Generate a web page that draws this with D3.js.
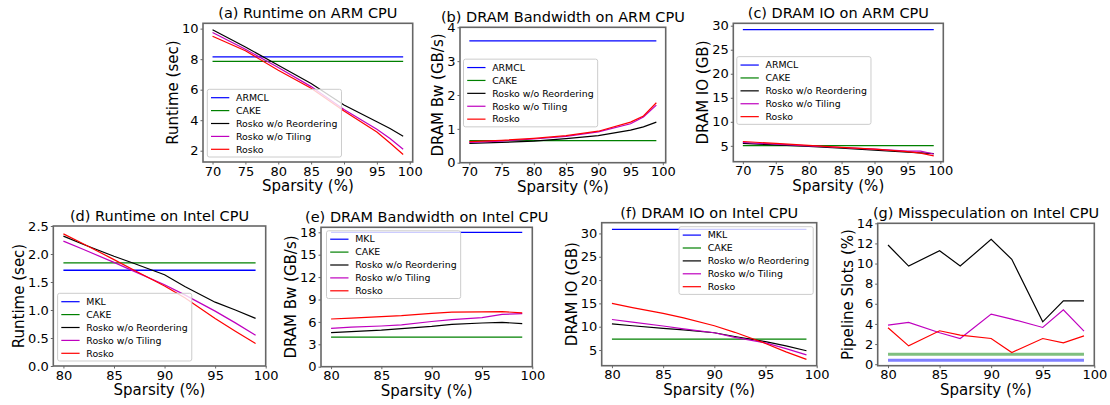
<!DOCTYPE html>
<html>
<head>
<meta charset="utf-8">
<script src="https://cdn.jsdelivr.net/npm/d3@7"></script>
<style>
  body { margin: 0; background: white; }
  text { font-family: "DejaVu Sans", sans-serif; fill: #000; }
</style>
</head>
<body>
<script>
// sparsity points
var armX = [70, 75, 80, 85, 90, 95, 97, 99];
var intelX = [80, 82, 85, 87, 90, 92, 95, 97, 99];

var armNames = ["ARMCL", "CAKE", "Rosko w/o Reordering", "Rosko w/o Tiling", "Rosko"];
var intelNames = ["MKL", "CAKE", "Rosko w/o Reordering", "Rosko w/o Tiling", "Rosko"];

// (a) runtime on ARM (sec)
var armRtArmcl = 8.15;
var armRtCake = 7.85;
var armRtNoReorder = [9.93, 8.8, 7.6, 6.4, 5.0, 3.9, 3.45, 2.95];
var armRtNoTiling = [9.75, 8.65, 7.45, 6.2, 4.7, 3.4, 2.8, 2.1];
var armRtRosko = [9.5, 8.55, 7.27, 6.1, 4.6, 3.22, 2.5, 1.75];

// (b) dram bw on ARM (GB/s)
var armBwArmcl = 3.6;
var armBwCake = 0.65;
var armBwNoReorder = [0.57, 0.6, 0.64, 0.71, 0.8, 0.96, 1.06, 1.2];
var armBwNoTiling = [0.6, 0.64, 0.7, 0.78, 0.91, 1.15, 1.35, 1.7];
var armBwRosko = [0.62, 0.66, 0.72, 0.8, 0.93, 1.2, 1.38, 1.77];

// (c) dram io on ARM (GB)
var armIoArmcl = 29.2;
var armIoCake = 5.05;
var armIoNoReorder = [5.5, 5.2, 4.9, 4.5, 4.1, 3.7, 3.55, 3.4];
var armIoNoTiling = [5.7, 5.35, 5.0, 4.65, 4.3, 3.9, 3.9, 3.3];
var armIoRosko = [5.9, 5.5, 5.1, 4.7, 4.3, 3.8, 3.5, 2.9];

// (d) runtime on Intel (sec)
var intelRtMkl = 1.71;
var intelRtCake = 1.84;
var intelRtNoReorder = [2.32, 2.17, 1.96, 1.83, 1.63, 1.42, 1.14, 1.0, 0.85];
var intelRtNoTiling = [2.23, 2.08, 1.85, 1.69, 1.45, 1.27, 0.98, 0.77, 0.55];
var intelRtRosko = [2.36, 2.18, 1.9, 1.71, 1.43, 1.22, 0.85, 0.62, 0.4];

// (e) dram bw on Intel (GB/s)
var intelBwMkl = 18;
var intelBwCake = 3.95;
var intelBwNoReorder = [4.56, 4.7, 4.9, 5.1, 5.4, 5.68, 5.85, 5.94, 5.76];
var intelBwNoTiling = [5.14, 5.3, 5.45, 5.6, 6.05, 6.3, 6.57, 7.0, 7.1];
var intelBwRosko = [6.39, 6.5, 6.7, 6.83, 7.15, 7.3, 7.35, 7.37, 7.22];

// (f) dram io on Intel (GB)
var intelIoMkl = 30.85;
var intelIoCake = 7.35;
var intelIoNoReorder = [10.6, 10.2, 9.65, 9.3, 8.7, 7.9, 6.8, 5.9, 4.85];
var intelIoNoTiling = [11.55, 11.0, 10.15, 9.55, 8.7, 7.7, 6.55, 5.3, 3.95];
var intelIoRosko = [15.0, 14.1, 12.85, 11.9, 10.2, 8.8, 6.4, 4.6, 3.0];

// (g) misspeculation on Intel (% pipeline slots)
var intelMsMkl = 0.4;
var intelMsCake = 1.0;
var intelMsNoReorder = [11.84, 9.75, 11.28, 9.75, 12.4, 10.42, 4.21, 6.3, 6.3];
var intelMsNoTiling = [3.88, 4.15, 3.12, 2.55, 4.98, 4.48, 3.65, 5.41, 3.28];
var intelMsRosko = [3.62, 1.82, 3.32, 2.89, 2.55, 1.16, 2.55, 2.12, 2.82];

var armTicksX = [70, 75, 80, 85, 90, 95, 100];
var intelTicksX = [80, 85, 90, 95, 100];

var colors = ["#0000ff", "#008000", "#000000", "#bf00bf", "#ff0000"];

var W = 1110, H = 405;
var svg = d3.select("body").append("svg")
            .attr("width", W)
            .attr("height", H);

function drawPanel(p) {
  var x = d3.scaleLinear().domain(p.xDom).range([p.box[0], p.box[2]]);
  var y = d3.scaleLinear().domain(p.yDom).range([p.box[3], p.box[1]]);
  var g = svg.append("g");

  // lines
  var line = d3.line()
               .x(function(d) { return x(d[0]); })
               .y(function(d) { return y(d[1]); });

  var xs = p.xs;
  var flat = [p.base[0], p.base[1]];
  flat.forEach(function(v, i) {
    g.append("path")
     .datum([[xs[0], v], [xs[xs.length - 1], v]])
     .attr("d", line)
     .attr("fill", "none")
     .attr("stroke", colors[i])
     .attr("stroke-width", p.thickBase ? 3 : 1.3)
     .attr("opacity", p.thickBase ? 0.5 : 1);
  });
  p.series.forEach(function(s, i) {
    g.append("path")
     .datum(xs.map(function(v, j) { return [v, s[j]]; }))
     .attr("d", line)
     .attr("fill", "none")
     .attr("stroke", colors[i + 2])
     .attr("stroke-width", 1.2);
  });

  // frame
  g.append("rect")
   .attr("x", p.box[0]).attr("y", p.box[1])
   .attr("width", p.box[2] - p.box[0])
   .attr("height", p.box[3] - p.box[1])
   .attr("fill", "none")
   .attr("stroke", "#666")
   .attr("stroke-width", 1.6);

  // x axis
  var xAxis = d3.axisBottom(x).tickValues(p.xTicks).tickSize(2.5).tickPadding(2).tickFormat(d3.format("d"));
  var gx = g.append("g")
            .attr("transform", "translate(0," + p.box[3] + ")")
            .call(xAxis);
  gx.select(".domain").remove();
  gx.selectAll("line").attr("stroke", "#666");
  gx.selectAll("text").style("font-size", "13px").attr("font-family", "DejaVu Sans").attr("fill", "#000");

  // y axis
  var yAxis = d3.axisLeft(y).tickValues(p.yTicks).tickSize(2.5).tickPadding(2).tickFormat(d3.format(p.yFmt));
  var gy = g.append("g")
            .attr("transform", "translate(" + p.box[0] + ",0)")
            .call(yAxis);
  gy.select(".domain").remove();
  gy.selectAll("line").attr("stroke", "#666");
  gy.selectAll("text").style("font-size", "13px").attr("font-family", "DejaVu Sans").attr("fill", "#000");

  var maxW = 0;
  gy.selectAll("text").each(function() { maxW = Math.max(maxW, this.getBBox().width); });

  // title and labels
  g.append("text")
   .attr("x", (p.box[0] + p.box[2]) / 2)
   .attr("y", p.box[1] - 5)
   .attr("text-anchor", "middle")
   .style("font-size", "14.5px")
   .text(p.title);

  g.append("text")
   .attr("x", (p.box[0] + p.box[2]) / 2)
   .attr("y", p.box[3] + 29)
   .attr("text-anchor", "middle")
   .style("font-size", "15px")
   .text("Sparsity (%)");

  var ly = (p.box[1] + p.box[3]) / 2;
  var lx = p.box[0] - 4.5 - maxW - 4;
  g.append("text")
   .attr("transform", "translate(" + lx + "," + ly + ") rotate(-90)")
   .attr("text-anchor", "middle")
   .style("font-size", "15px")
   .text(p.ylabel);

  if (!p.legend) return;

  // legend
  var rowH = 12.9, boxH = 8.4 + 4 * rowH + 7.7;
  var lg = g.append("g");
  var bg = lg.append("rect");
  var texts = [];
  p.names.forEach(function(n, i) {
    var t = lg.append("text")
              .attr("x", 28.7)
              .attr("y", 8.4 + i * rowH + 3.3)
              .style("font-size", "9.4px")
              .text(n);
    texts.push(t);
    lg.append("line")
      .attr("x1", 3.7).attr("x2", 22)
      .attr("y1", 8.4 + i * rowH).attr("y2", 8.4 + i * rowH)
      .attr("stroke", colors[i])
      .attr("stroke-width", 1.2);
  });
  var tw = 0;
  texts.forEach(function(t) { tw = Math.max(tw, t.node().getBBox().width); });
  var boxW = 28.7 + tw + 4;
  bg.attr("width", boxW).attr("height", boxH)
    .attr("rx", 2)
    .attr("fill", "white").attr("fill-opacity", 0.8)
    .attr("stroke", "#cccccc").attr("stroke-width", 1);

  var bx, by;
  if (p.legend == "lower left") { bx = p.box[0] + 4.3; by = p.box[3] - 5 - boxH; }
  if (p.legend == "center left") { bx = p.box[0] + 3.5; by = (p.box[1] + p.box[3]) / 2 - 2 - boxH / 2; }
  if (p.legend == "upper left") { bx = p.box[0] + 5.5; by = p.box[1] + 3.5; }
  if (p.legend == "upper right") { bx = p.box[2] - 3.5 - boxW; by = p.box[1] + 4; }
  lg.attr("transform", "translate(" + bx + "," + by + ")");
}

var panels = [
  { title: "(a) Runtime on ARM CPU", ylabel: "Runtime (sec)", box: [203, 23.3, 412.7, 162],
    xDom: [68.55, 100.45], yDom: [1.26, 10.35], xs: armX, xTicks: armTicksX,
    yTicks: [2, 4, 6, 8, 10], yFmt: "d", names: armNames, legend: "lower left",
    base: [armRtArmcl, armRtCake], series: [armRtNoReorder, armRtNoTiling, armRtRosko] },
  { title: "(b) DRAM Bandwidth on ARM CPU", ylabel: "DRAM Bw (GB/s)", box: [460, 27.3, 665.7, 162.7],
    xDom: [68.55, 100.45], yDom: [0, 4], xs: armX, xTicks: armTicksX,
    yTicks: [0, 1, 2, 3, 4], yFmt: "d", names: armNames, legend: "center left",
    base: [armBwArmcl, armBwCake], series: [armBwNoReorder, armBwNoTiling, armBwRosko] },
  { title: "(c) DRAM IO on ARM CPU", ylabel: "DRAM IO (GB)", box: [733.3, 23.3, 943.3, 161.7],
    xDom: [68.55, 100.45], yDom: [1.7, 30.5], xs: armX, xTicks: armTicksX,
    yTicks: [5, 10, 15, 20, 25, 30], yFmt: "d", names: armNames, legend: "center left",
    base: [armIoArmcl, armIoCake], series: [armIoNoReorder, armIoNoTiling, armIoRosko] },
  { title: "(d) Runtime on Intel CPU", ylabel: "Runtime (sec)", box: [53.3, 226, 265.7, 366],
    xDom: [79, 100], yDom: [0, 2.5], xs: intelX, xTicks: intelTicksX,
    yTicks: [0, 0.5, 1, 1.5, 2, 2.5], yFmt: ".1f", names: intelNames, legend: "lower left",
    base: [intelRtMkl, intelRtCake], series: [intelRtNoReorder, intelRtNoTiling, intelRtRosko] },
  { title: "(e) DRAM Bandwidth on Intel CPU", ylabel: "DRAM Bw (GB/s)", box: [321, 227.3, 532.3, 366.7],
    xDom: [79, 100], yDom: [0, 18.67], xs: intelX, xTicks: intelTicksX,
    yTicks: [0, 3, 6, 9, 12, 15, 18], yFmt: "d", names: intelNames, legend: "upper left",
    base: [intelBwMkl, intelBwCake], series: [intelBwNoReorder, intelBwNoTiling, intelBwRosko] },
  { title: "(f) DRAM IO on Intel CPU", ylabel: "DRAM IO (GB)", box: [601.7, 222.7, 816.7, 365.7],
    xDom: [79, 100], yDom: [1.64, 32.3], xs: intelX, xTicks: intelTicksX,
    yTicks: [5, 10, 15, 20, 25, 30], yFmt: "d", names: intelNames, legend: "upper right",
    base: [intelIoMkl, intelIoCake], series: [intelIoNoReorder, intelIoNoTiling, intelIoRosko] },
  { title: "(g) Misspeculation on Intel CPU", ylabel: "Pipeline Slots (%)", box: [877.7, 223.3, 1094.3, 365.7],
    xDom: [79, 100], yDom: [-0.15, 14], xs: intelX, xTicks: intelTicksX,
    yTicks: [0, 2, 4, 6, 8, 10, 12, 14], yFmt: "d", names: intelNames, legend: null, thickBase: true,
    base: [intelMsMkl, intelMsCake], series: [intelMsNoReorder, intelMsNoTiling, intelMsRosko] }
];

panels.forEach(drawPanel);
</script>
</body>
</html>
